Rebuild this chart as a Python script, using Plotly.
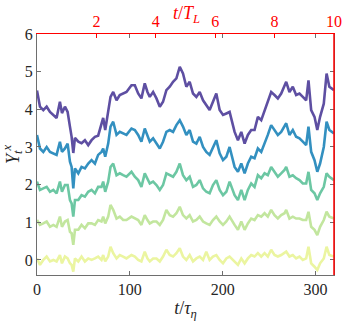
import plotly.graph_objects as go

# time in units of tau_eta
t = [0, 3.2, 6.8, 10.4, 14, 17.6, 21.1, 24.7, 26.9, 30.1, 33, 35.5, 37.3, 39.1, 40.9, 44.5, 48,
     51.6, 55.2, 58.8, 62.4, 65.9, 69.5, 71.3, 73.5, 76.7, 79.2, 82.1, 85.7, 89.2, 92.8, 96.4, 101.8,
     105.4, 109, 112.5, 116.1, 119, 121.5, 125.1, 128.7, 132.3, 135.8, 139.4, 143, 146.6, 150.2,
     153.8, 157.3, 160.9, 164.5, 168.1, 171.7, 175.3, 178.9, 182.4, 186, 189.6, 193.2, 196.8, 200.4,
     204, 207.5,
     212.9, 216.5, 220.1, 223.7, 227.2, 230.8, 234.4, 238, 241.6, 245.2, 248.7, 252.3, 255.9, 259.5,
     263.1, 266.7, 268.5, 272, 275.6, 279.2, 282.8, 286.4, 290, 292.5, 295.4, 299, 302, 305, 309,
     312, 315, 320]

y_purple = [4.5, 4.07, 3.98, 4.07, 3.93, 3.85, 3.77, 4.2, 3.9, 4.07, 3.93, 3.54, 3.27, 2.84, 3.24,
            3.14, 3.1, 3.18, 3.05, 3.18, 3.27, 3.3, 3.58, 3.77, 3.45, 3.98, 4.33, 4.46, 4.24, 4.38,
            4.42, 4.46, 4.64,
            4.64, 4.42, 4.29, 4.69, 4.46, 4.33, 4.46, 4.29, 4.07, 4.2, 4.51, 4.6, 4.73, 4.82, 5.13,
            4.95, 4.6, 4.73, 4.42, 4.33, 4.46, 4.24, 4.11, 3.98, 4.2, 4.42, 3.98, 3.85, 3.89, 3.93,
            3.40, 3.18, 3.40, 3.09, 3.32, 3.45, 3.45, 3.8, 3.71, 3.98, 4.2, 4.46, 4.38, 4.29, 4.42,
            4.6, 4.73, 4.46, 4.6, 4.38, 4.42, 4.33, 4.24, 4.77, 3.98, 3.8, 3.45, 3.8, 4.15, 4.95,
            4.6, 4.51]

y_blue = [3.32, 2.96, 2.87, 3.0, 2.87, 2.83, 2.79, 3.14, 2.87, 2.96, 3.09, 2.61, 2.47, 1.9, 2.43,
          2.3, 2.47, 2.43, 2.56, 2.65, 2.56, 2.79, 2.87, 2.96, 2.74, 3.09, 3.54, 3.67, 3.32, 3.4,
          3.36, 3.32, 3.49,
          3.45, 3.32, 3.14, 3.49, 3.32, 3.14, 3.23, 3.09, 2.96, 3.14, 3.40, 3.45, 3.40, 3.58, 3.71,
          3.54, 3.32, 3.45, 3.14, 3.09, 3.27, 3.0, 2.87, 2.79, 3.0, 3.18, 2.83, 2.65, 2.74, 3.0,
          2.47, 2.34, 2.56, 2.3, 2.56, 2.74, 2.7, 2.96, 2.87, 3.09, 3.32, 3.58, 3.45, 3.32, 3.4,
          3.54, 3.63, 3.32, 3.45, 3.27, 3.23, 3.14, 3.05, 3.54, 2.87, 2.65, 2.34, 2.56, 3.0, 3.67,
          3.45, 3.36]

y_green = [2.08, 1.86, 1.9, 1.94, 1.81, 1.86, 1.77, 2.08, 1.81, 1.99, 1.99, 1.59, 1.5, 1.15, 1.59,
           1.59, 1.72, 1.68, 1.81, 1.86, 1.77, 1.94, 1.94, 2.08, 1.81, 2.08, 2.47, 2.56, 2.25, 2.3,
           2.25, 2.21, 2.34,
           2.21, 2.12, 1.94, 2.3, 2.17, 2.03, 2.08, 1.99, 1.86, 1.99, 2.3, 2.25, 2.21, 2.34, 2.56,
           2.25, 2.12, 2.21, 1.94, 1.99, 2.12, 1.9, 1.81, 1.77, 1.99, 2.12, 1.86, 1.72, 1.81, 2.08,
           1.72, 1.59, 1.86, 1.59, 1.86, 2.03, 1.94, 2.25, 2.17, 2.3, 2.25, 2.47, 2.34, 2.21, 2.3,
           2.39, 2.47, 2.21, 2.25, 2.17, 2.12, 2.03, 2.03, 2.34, 1.86, 1.77, 1.59, 1.77, 1.94, 2.3,
           2.21, 2.12]

y_lightgreen = [1.06, 0.93, 0.97, 1.02, 0.88, 0.93, 0.88, 1.15, 0.88, 1.02, 1.06, 0.75, 0.71, 0.4,
                0.8, 0.8, 0.93, 0.84, 0.97, 0.97, 0.93, 1.06, 1.02, 1.15, 0.97, 1.15, 1.46, 1.33,
                1.1, 1.15, 1.06, 1.06, 1.15,
                1.1, 1.06, 0.93, 1.19, 1.06, 0.97, 1.02, 1.02, 0.93, 1.06, 1.33, 1.19, 1.15, 1.24,
                1.41, 1.19, 1.1, 1.19, 1.02, 1.06, 1.15, 1.02, 0.97, 0.93, 1.06, 1.15, 1.02, 0.93,
                1.02, 1.15,
                0.93, 0.8, 1.02, 0.8, 0.97, 1.1, 1.06, 1.19, 1.15, 1.24, 1.15, 1.33, 1.19, 1.1, 1.19,
                1.24, 1.33, 1.1, 1.15, 1.1, 1.1, 1.06, 1.06, 1.28, 0.88, 0.8, 0.66, 0.88, 1.06, 1.28,
                1.15, 1.1]

y_yellow = [0.04, -0.13, 0.0, 0.09, -0.04, 0.0, -0.04, 0.13, -0.09, 0.09, 0.04, -0.09, -0.13, -0.31,
            0.04, -0.04, 0.09, -0.04, 0.04, 0.0, 0.04, 0.09, 0.0, 0.13, -0.04, 0.09, 0.35, 0.18,
            0.04, 0.13, 0.09, 0.04, 0.13,
            0.09, 0.0, -0.04, 0.22, 0.04, -0.04, 0.04, 0.04, -0.04, 0.09, 0.27, 0.13, 0.09, 0.18,
            0.31, 0.09, 0.0, 0.13, -0.04, 0.04, 0.09, 0.0, 0.22, 0.0, 0.09, 0.13, 0.0, -0.09, 0.04,
            0.09,
            -0.04, -0.13, 0.04, -0.09, 0.04, 0.13, 0.09, 0.18, 0.09, 0.18, 0.09, 0.27, 0.13, 0.09,
            0.13, 0.18, 0.22, 0.09, 0.13, 0.04, 0.09, 0.0, 0.04, 0.35, -0.09, -0.18, -0.27, -0.09,
            0.04, 0.35, 0.13, 0.09]

series = [y_yellow, y_lightgreen, y_green, y_blue, y_purple]
colors = ["#ebf5a0", "#c2e69e", "#6cc7a3", "#3390c0", "#5e4fa2"]

top_ticks = [2, 4, 6, 8, 10]
T_L = 32  # t/T_L scale factor in units of tau_eta

font = "Liberation Serif"
tick_font = dict(family=font, size=16, color="#262626")

fig = go.Figure()
for y, c in zip(series, colors):
    fig.add_trace(go.Scatter(x=t, y=y, mode="lines", line=dict(color=c, width=2.6),
                             showlegend=False))

# invisible trace to activate the top axis
fig.add_trace(go.Scatter(x=[0, 10], y=[None, None], xaxis="x2", showlegend=False,
                         hoverinfo="skip"))

fig.update_layout(
    width=345, height=327,
    margin=dict(l=37, r=11, t=34, b=52),
    plot_bgcolor="white", paper_bgcolor="white",
    font=dict(family=font, size=16, color="#262626"),
    xaxis=dict(range=[0, 320], tickvals=[0, 100, 200, 300], ticks="inside", ticklen=4,
               tickcolor="#6e6e6e", showline=True, linecolor="#6e6e6e", linewidth=1,
               mirror="ticks", showgrid=False, zeroline=False, automargin=False,
               tickfont=tick_font,
               title=dict(text="<i>t</i>/<i>τ<sub>η</sub></i>",
                          font=dict(family=font, size=18, color="#262626"), standoff=4)),
    xaxis2=dict(range=[0, 320 / T_L], overlaying="x", side="top", tickvals=top_ticks,
                ticks="inside", ticklen=4, tickcolor="#ff0000", showline=True,
                linecolor="#ff0000", linewidth=1, showgrid=False, zeroline=False,
                automargin=False, tickfont=dict(family=font, color="#ff0000", size=16)),
    yaxis=dict(range=[-0.4, 6], tickvals=[0, 1, 2, 3, 4, 5, 6], ticks="inside", ticklen=4,
               tickcolor="#6e6e6e", showline=True, linecolor="#6e6e6e", linewidth=1,
               mirror="ticks", showgrid=False, zeroline=False, automargin=False,
               tickfont=tick_font,
               title=dict(text="<i>Y<sub>t</sub><sup>x</sup></i>",
                          font=dict(family=font, size=18, color="#262626"), standoff=2)),
    shapes=[dict(type="line", xref="paper", yref="paper", x0=1, x1=1, y0=0, y1=1,
                 line=dict(color="#ff0000", width=1.5), layer="above")],
    annotations=[dict(text="<i>t</i>/<i>T<sub>L</sub></i>", xref="paper", yref="paper",
                      x=0.505, y=1.0, yshift=20, xanchor="center", yanchor="middle",
                      showarrow=False, font=dict(family=font, size=18, color="#ff0000"))],
)

fig.write_html("out.html", config={"displayModeBar": False},
               post_script="document.body.style.margin='0';")
